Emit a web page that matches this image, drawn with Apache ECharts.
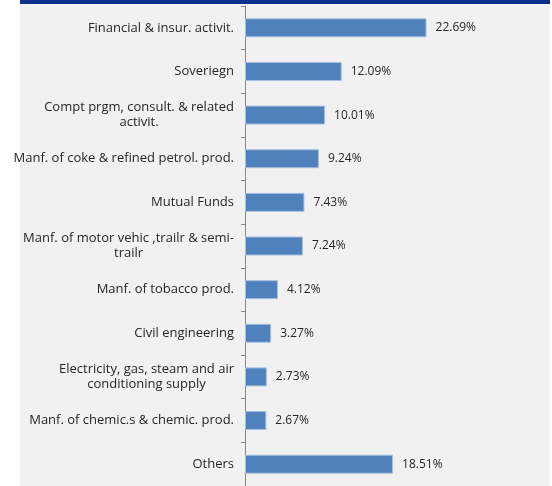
<!DOCTYPE html>
<html>
<head>
<meta charset="utf-8">
<script src="https://cdn.jsdelivr.net/npm/echarts@6/dist/echarts.min.js"></script>
<style>html,body{margin:0;padding:0;background:#fff;}#c{width:552px;height:486px;}</style>
</head>
<body>
<div id="c"></div>
<script>
var categories = [
  'Financial & insur. activit.',
  'Soveriegn',
  'Compt prgm, consult. & related\nactivit.',
  'Manf. of coke & refined petrol. prod.',
  'Mutual Funds',
  'Manf. of motor vehic ,trailr & semi-\ntrailr',
  'Manf. of tobacco prod.',
  'Civil engineering',
  'Electricity, gas, steam and air\nconditioning supply',
  'Manf. of chemic.s & chemic. prod.',
  'Others'
];
var values = [22.69, 12.09, 10.01, 9.24, 7.43, 7.24, 4.12, 3.27, 2.73, 2.67, 18.51];

var chart = echarts.init(document.getElementById('c'), null, {renderer: 'canvas'});
var font = "'Open Sans', 'Liberation Sans', Arial, sans-serif";
chart.setOption({
  backgroundColor: '#ffffff',
  animation: false,
  graphic: [
    {type: 'rect', shape: {x: 20, y: 0, width: 530, height: 486}, style: {fill: '#f1f1f1'}, z: -10, silent: true},
    {type: 'rect', shape: {x: 20, y: 0, width: 530, height: 4}, style: {fill: '#0b2f8e'}, z: -9, silent: true}
  ],
  grid: {left: 245, top: 6, width: 288, height: 484, containLabel: false},
  xAxis: {type: 'value', min: 0, max: 36, show: false},
  yAxis: {
    type: 'category',
    data: categories,
    inverse: true,
    axisLine: {show: true, lineStyle: {color: '#868686', width: 1}},
    axisTick: {show: true, length: 4, lineStyle: {color: '#868686'}},
    axisLabel: {
      margin: 11,
      color: '#262626',
      fontFamily: font,
      fontSize: 13,
      lineHeight: 15,
      formatter: function (v) {
        return v.split('\n').map(function (l) { return '{c|' + l + '}'; }).join('\n');
      },
      rich: {c: {align: 'center', fontFamily: font, fontSize: 13, lineHeight: 15, color: '#262626'}}
    },
    splitLine: {show: false}
  },
  series: [{
    type: 'bar',
    data: values,
    barWidth: 19,
    itemStyle: {color: '#4f81bd', borderColor: '#a9c0e0', borderWidth: 1},
    label: {
      show: true,
      position: 'right',
      distance: 9,
      color: '#262626',
      fontFamily: font,
      fontSize: 12,
      formatter: function (p) { return p.value.toFixed(2) + '%'; }
    }
  }]
});
</script>
</body>
</html>
